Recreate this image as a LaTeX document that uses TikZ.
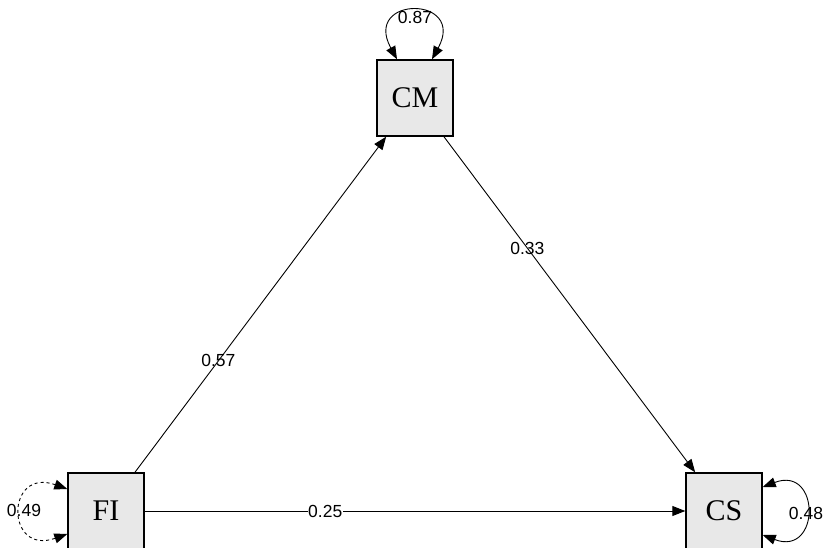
\documentclass[tikz,border=0pt]{standalone}
\usepackage{fontspec}
\setmainfont{Liberation Serif}
\newfontfamily\lblfont{Liberation Sans}
\usetikzlibrary{arrows.meta}
\begin{document}
\begin{tikzpicture}[x=1pt,y=-1pt,
  var/.style={draw=black,line width=1.4pt,fill=black!9,minimum size=76pt,inner sep=0pt,font=\fontsize{30}{30}\selectfont},
  path/.style={line width=0.9pt,-{Triangle[length=13pt,width=10pt]}},
  dpath/.style={line width=0.9pt,{Triangle[length=13pt,width=10pt]}-{Triangle[length=13pt,width=10pt]}},
  lbl/.style={font=\lblfont\fontsize{17.5}{17.5}\selectfont,inner sep=1pt}]
\useasboundingbox (0,0) rectangle (823,548);
\node[var] (CM) at (415,98) {CM};
\node[var] (FI) at (106,511) {FI};
\node[var] (CS) at (724,511) {CS};
% directed paths
\draw[path] (FI) -- node[lbl,pos=0.332] (l57) {0.57} (CM);
\draw[path] (CM) -- node[lbl,pos=0.332] (l33) {0.33} (CS);
\draw[path] (FI) -- node[lbl,fill=white,inner sep=0.5pt,pos=0.334] (l25) {0.25} (CS);
% variances
\coordinate (cma) at ([xshift=-18pt]CM.north);
\coordinate (cmb) at ([xshift=17pt]CM.north);
\draw[dpath] (cma) .. controls +(-35,-64) and +(35,-64) .. (cmb);
\node[lbl] (l87) at (415,17) {0.87};
\coordinate (fia) at ([yshift=22pt]FI.west);
\coordinate (fib) at ([yshift=-23pt]FI.west);
\draw[dpath,dashed] (fia) .. controls +(-62,-22) and +(-62,22) .. (fib);
\node[lbl] (l49) at (24,510) {0.49};
\coordinate (csa) at ([yshift=24pt]CS.east);
\coordinate (csb) at ([yshift=-24pt]CS.east);
\draw[dpath] (csa) .. controls +(58,-22) and +(58,22) .. (csb);
\node[lbl] (l48) at (806,513) {0.48};
\end{tikzpicture}
\end{document}
